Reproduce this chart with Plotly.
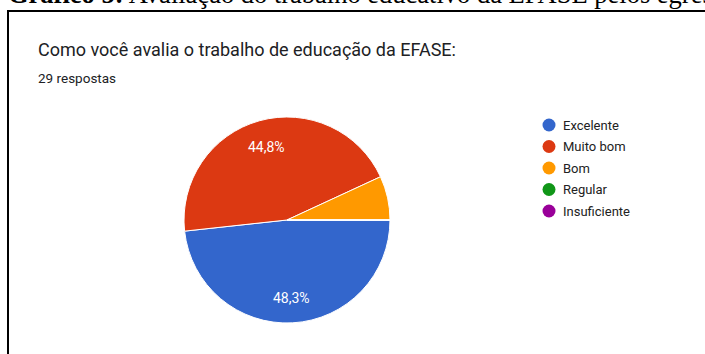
import math
import plotly.graph_objects as go

W, H = 705, 354

# Data
categories = ["Excelente", "Muito bom", "Bom", "Regular", "Insuficiente"]
counts = [14, 13, 2, 0, 0]
colors = ["#3366CC", "#DC3912", "#FF9900", "#109618", "#990099"]
title_text = "Como você avalia o trabalho de educação da EFASE:"
subtitle_text = "29 respostas"
caption_bold = "Gráfico 5:"
caption_rest = " Avaliação do trabalho educativo da EFASE pelos egressos"


def px(x):
    return x / W


def py(y):
    return 1 - y / H


cx, cy, r = 287, 220, 103
total = sum(counts)

fig = go.Figure()
fig.add_trace(go.Pie(
    labels=categories,
    values=counts,
    sort=False,
    direction="clockwise",
    rotation=90,
    marker=dict(colors=colors, line=dict(color="white", width=1)),
    textinfo="none",
    domain=dict(x=[px(cx - r), px(cx + r)], y=[py(cy + r), py(cy - r)]),
    showlegend=False,
    hoverinfo="label+percent",
))

shapes = [
    dict(type="rect", xref="paper", yref="paper",
         x0=px(8), x1=px(760), y0=py(11), y1=py(400),
         line=dict(color="black", width=2), fillcolor="rgba(0,0,0,0)", layer="below"),
]
annotations = [
    dict(text=f"<b>{caption_bold}</b>{caption_rest}", x=px(6), y=py(-5.5), xref="paper", yref="paper",
         xanchor="left", yanchor="middle", showarrow=False,
         font=dict(family="Liberation Serif", size=26.5, color="black")),
    dict(text=title_text, x=px(36), y=py(49.5), xref="paper", yref="paper",
         xanchor="left", yanchor="middle", showarrow=False,
         font=dict(family="Roboto", size=18, color="#202124")),
    dict(text=subtitle_text, x=px(36), y=py(78), xref="paper", yref="paper",
         xanchor="left", yanchor="middle", showarrow=False,
         font=dict(family="Roboto", size=13.5, color="#202124")),
]

# percentage labels placed along each slice's bisector (Google Forms style)
start = 0.0
for c in counts:
    frac = c / total
    if frac > 0.1:
        mid = (start + frac / 2) * 2 * math.pi  # clockwise from 3 o'clock
        lx = cx + 0.745 * r * math.cos(mid)
        ly = cy + 0.745 * r * math.sin(mid)
        annotations.append(dict(text=f"{frac * 100:.1f}%".replace(".", ","),
                                x=px(lx), y=py(ly + 1), xref="paper", yref="paper",
                                xanchor="center", yanchor="middle", showarrow=False,
                                font=dict(family="Roboto", size=14, color="white")))
    start += frac

leg_x, leg_y0, leg_dy, rad = 549, 125, 21.5, 6.5
for i, (lab, col) in enumerate(zip(categories, colors)):
    yy = leg_y0 + i * leg_dy
    shapes.append(dict(type="circle", xref="paper", yref="paper",
                       x0=px(leg_x - rad), x1=px(leg_x + rad),
                       y0=py(yy + rad), y1=py(yy - rad),
                       fillcolor=col, line=dict(width=0)))
    annotations.append(dict(text=lab, x=px(561), y=py(yy), xref="paper", yref="paper",
                            xanchor="left", yanchor="middle", showarrow=False,
                            font=dict(family="Roboto", size=13, color="#222222")))

fig.update_layout(
    width=W, height=H,
    margin=dict(l=0, r=0, t=0, b=0),
    paper_bgcolor="white", plot_bgcolor="white",
    separators=",.",
    shapes=shapes,
    annotations=annotations,
)

fig.write_html("out.html")
